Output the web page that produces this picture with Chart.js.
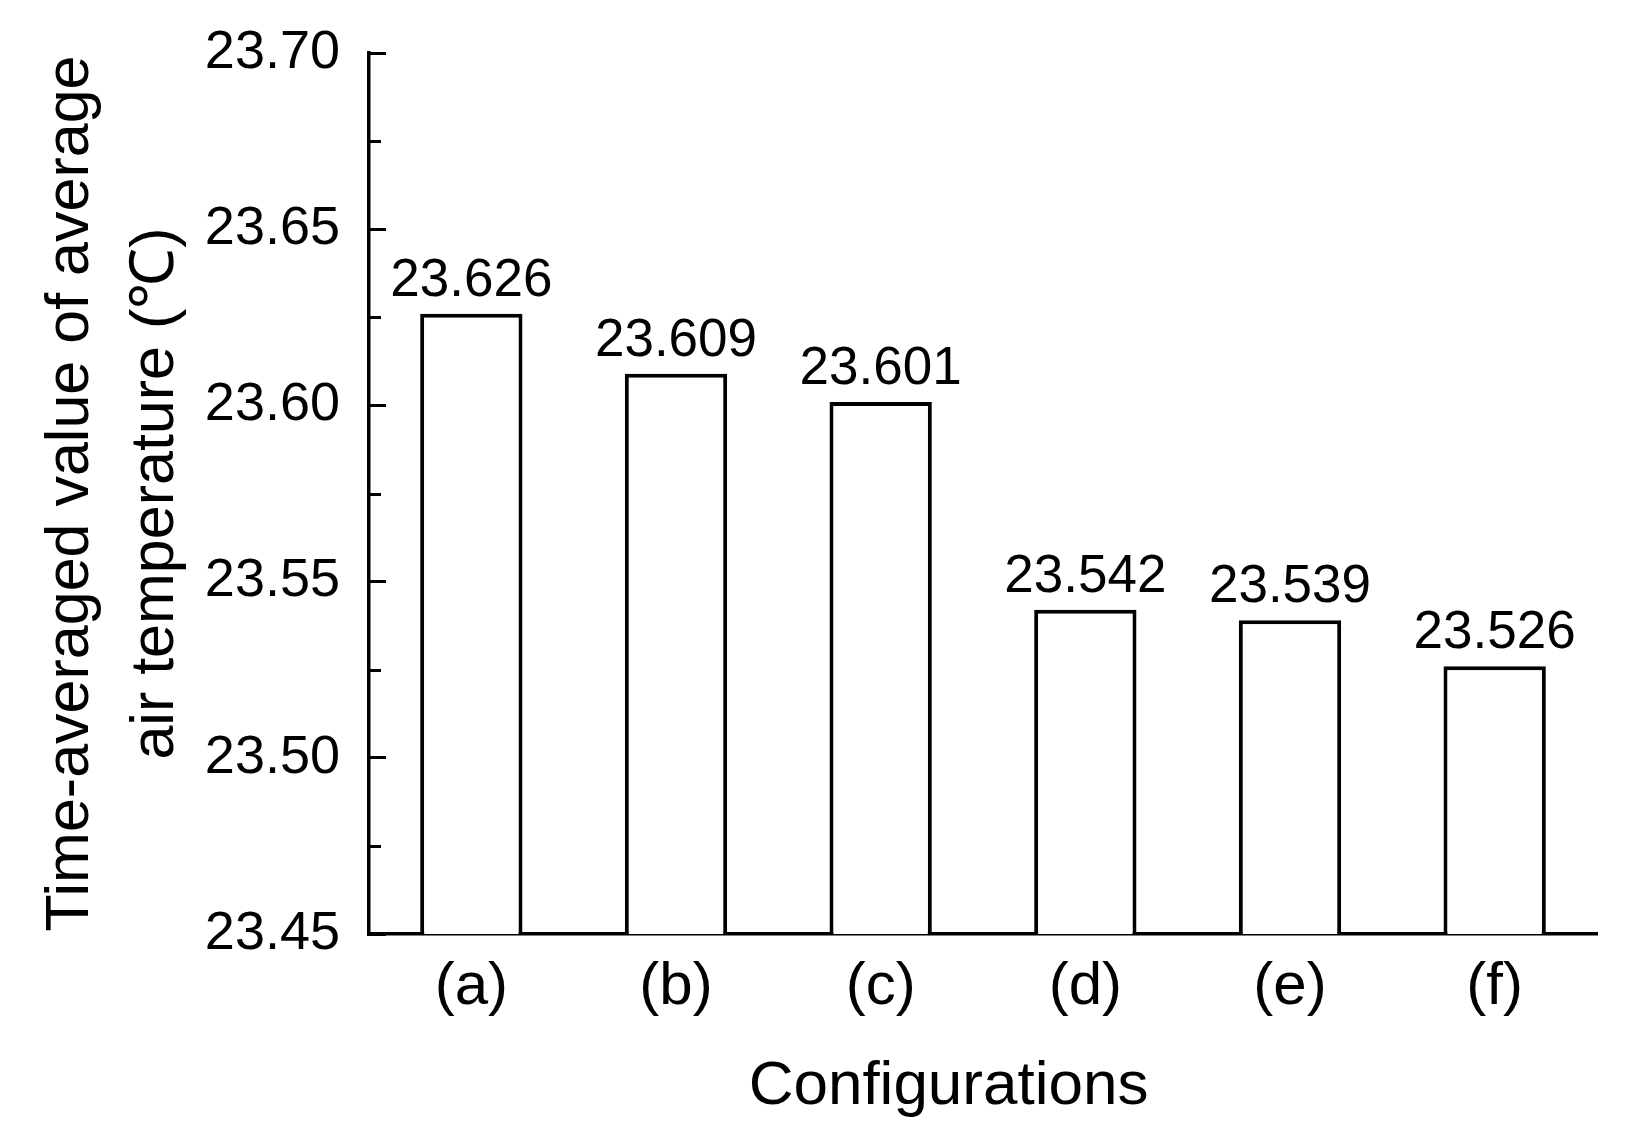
<!DOCTYPE html>
<html>
<head>
<meta charset="utf-8">
<script src="https://cdn.jsdelivr.net/npm/chart.js@4/dist/chart.umd.min.js"></script>
<style>
  html, body { margin: 0; padding: 0; background: #fff; }
  #wrap { width: 1628px; height: 1144px; position: relative; }
</style>
</head>
<body>
<div id="wrap"><canvas id="chart"></canvas></div>
<script>
// data
const configurations = ['(a)', '(b)', '(c)', '(d)', '(e)', '(f)'];
const airTemp = [23.626, 23.609, 23.601, 23.542, 23.539, 23.526];
const yMin = 23.45;
const yMax = 23.70;
const yStep = 0.05;
const minorStep = 0.025;

const FONT = "'Liberation Sans', Arial, sans-serif";

// value labels above each bar
const barLabels = {
  id: 'barLabels',
  afterDatasetsDraw(chart) {
    const ctx = chart.ctx;
    const meta = chart.getDatasetMeta(0);
    ctx.save();
    ctx.fillStyle = '#000';
    ctx.font = '53px ' + FONT;
    ctx.textAlign = 'center';
    ctx.textBaseline = 'alphabetic';
    meta.data.forEach((bar, i) => {
      ctx.fillText(airTemp[i].toFixed(3), bar.x, bar.y - 18);
    });
    ctx.restore();
  }
};

// short inward minor ticks between the labelled ones
const minorTicks = {
  id: 'minorTicks',
  afterDraw(chart) {
    const y = chart.scales.y;
    const ctx = chart.ctx;
    ctx.save();
    ctx.strokeStyle = '#000';
    ctx.lineWidth = 3;
    for (let v = yMin + minorStep; v < yMax; v += yStep) {
      const py = Math.round(y.getPixelForValue(v)) + 0.5;
      ctx.beginPath();
      ctx.moveTo(y.right, py);
      ctx.lineTo(y.right + 12, py);
      ctx.stroke();
    }
    ctx.restore();
  }
};

const ctx = document.getElementById('chart').getContext('2d');
new Chart(ctx, {
  type: 'bar',
  data: {
    labels: configurations,
    datasets: [{
      data: airTemp,
      backgroundColor: '#fff',
      borderColor: '#000',
      borderWidth: 4,
      borderSkipped: 'bottom',
      barPercentage: 0.5,
      categoryPercentage: 1.0
    }]
  },
  options: {
    responsive: true,
    maintainAspectRatio: false,
    animation: false,
    layout: { padding: { top: 53, right: 31, bottom: 0, left: 0 } },
    plugins: {
      legend: { display: false },
      tooltip: { enabled: false }
    },
    scales: {
      x: {
        grid: { display: true, drawOnChartArea: false, drawTicks: false },
        border: { display: true, color: '#000', width: 3.5 },
        ticks: { color: '#000', padding: 17, font: { family: FONT, size: 60 } },
        title: {
          display: true,
          text: 'Configurations    ',
          color: '#000',
          font: { family: FONT, size: 62, lineHeight: 1.2 },
          padding: { top: 0, bottom: 20 }
        },
        afterFit(scale) { scale.height = 210; }
      },
      y: {
        min: yMin,
        max: yMax,
        grid: {
          drawOnChartArea: false,
          drawTicks: true,
          tickLength: -17,
          tickColor: '#000',
          tickWidth: 3
        },
        border: { display: true, color: '#000', width: 3.5 },
        ticks: {
          stepSize: yStep,
          color: '#000',
          padding: 46,
          font: { family: FONT, size: 54 },
          callback: (v) => Number(v).toFixed(2)
        },
        title: {
          display: true,
          text: ['Time-averaged value of average', 'air temperature (\u2103)'],
          color: '#000',
          font: { family: FONT, size: 61, lineHeight: 1.4 },
          padding: { top: 28, bottom: 0 }
        },
        afterFit(scale) {
          scale.width = 369;
          scale.paddingTop = 0;
          scale.paddingBottom = 0;
        }
      }
    }
  },
  plugins: [barLabels, minorTicks]
});
</script>
</body>
</html>
